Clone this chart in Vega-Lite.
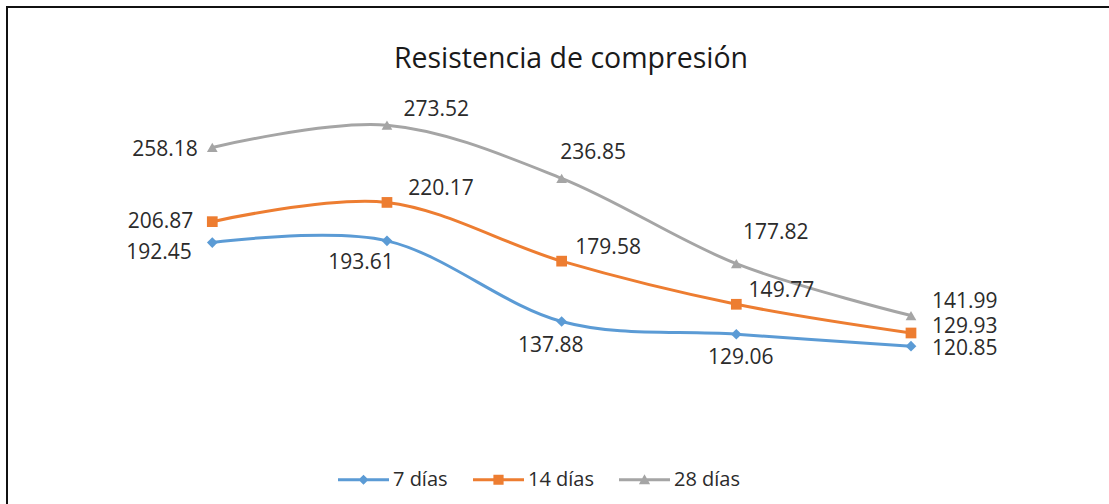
{
  "$schema": "https://vega.github.io/schema/vega-lite/v6.json",
  "width": 1102,
  "height": 497,
  "autosize": {"type": "none"},
  "padding": {"left": 7, "top": 7, "right": 0, "bottom": 0},
  "background": "white",
  "title": {
    "text": "Resistencia de compresión",
    "anchor": "middle",
    "frame": "group",
    "orient": "top",
    "offset": 0,
    "baseline": "alphabetic",
    "dx": 13,
    "dy": 89,
    "font": "Open Sans",
    "fontSize": 28.5,
    "fontWeight": "normal",
    "color": "#1a1a1a"
  },
  "config": {
    "view": {"stroke": "#111111", "strokeWidth": 2, "strokeDash": [1102, 1599, 497], "fill": "white"},
    "text": {"font": "Open Sans", "fontSize": 21, "color": "#2b2b2b", "baseline": "middle"}
  },
  "data": {
    "values": [
      {"muestra": 1, "serie": "7 días", "valor": 192.45},
      {"muestra": 2, "serie": "7 días", "valor": 193.61},
      {"muestra": 3, "serie": "7 días", "valor": 137.88},
      {"muestra": 4, "serie": "7 días", "valor": 129.06},
      {"muestra": 5, "serie": "7 días", "valor": 120.85},
      {"muestra": 1, "serie": "14 días", "valor": 206.87},
      {"muestra": 2, "serie": "14 días", "valor": 220.17},
      {"muestra": 3, "serie": "14 días", "valor": 179.58},
      {"muestra": 4, "serie": "14 días", "valor": 149.77},
      {"muestra": 5, "serie": "14 días", "valor": 129.93},
      {"muestra": 1, "serie": "28 días", "valor": 258.18},
      {"muestra": 2, "serie": "28 días", "valor": 273.52},
      {"muestra": 3, "serie": "28 días", "valor": 236.85},
      {"muestra": 4, "serie": "28 días", "valor": 177.82},
      {"muestra": 5, "serie": "28 días", "valor": 141.99}
    ]
  },
  "encoding": {
    "x": {"field": "muestra", "type": "quantitative", "axis": null, "scale": {"domain": [-0.1753, 6.1336], "nice": false, "zero": false}},
    "y": {"field": "valor", "type": "quantitative", "axis": null, "scale": {"domain": [11.75, 355.22], "nice": false, "zero": false}},
    "color": {
      "field": "serie",
      "type": "nominal",
      "scale": {"domain": ["7 días", "14 días", "28 días"], "range": ["#5B9BD5", "#ED7D31", "#A5A5A5"]},
      "legend": {
        "orient": "none",
        "legendX": 331,
        "legendY": 447,
        "direction": "horizontal",
        "title": null,
        "symbolSize": 2601,
        "symbolStrokeWidth": 0,
        "labelFont": "Open Sans",
        "labelFontSize": 20,
        "labelColor": "#2b2b2b",
        "labelOffset": 4,
        "columnPadding": 25,
        "encode": {
          "symbols": {
            "update": {
              "shape": {"signal": "datum.value === '7 días' ? 'M-1,-0.06H1V0.06H-1Z M0,-0.2L0.2,0L0,0.2L-0.2,0Z' : datum.value === '14 días' ? 'M-1,-0.06H1V0.06H-1Z M-0.2,-0.2H0.2V0.2H-0.2Z' : 'M-1,-0.06H1V0.06H-1Z M0,-0.22L0.22,0.18H-0.22Z'"},
              "fill": {"signal": "scale('color', datum.value)"},
              "stroke": {"value": "transparent"},
              "strokeWidth": {"value": 0},
              "opacity": {"value": 1}
            }
          }
        }
      }
    }
  },
  "layer": [
    {
      "mark": {"type": "line", "interpolate": "cardinal", "strokeWidth": 3}
    },
    {"transform": [{"filter": "datum.serie === '7 días'"}], "mark": {"type": "point", "shape": "diamond", "filled": true, "opacity": 1, "size": 115}},
    {"transform": [{"filter": "datum.serie === '14 días'"}], "mark": {"type": "point", "shape": "square", "filled": true, "opacity": 1, "size": 115}},
    {"transform": [{"filter": "datum.serie === '28 días'"}], "mark": {"type": "point", "shape": "triangle-up", "filled": true, "opacity": 1, "size": 115}},
    {"transform": [{"filter": "datum.serie === '28 días' && datum.muestra === 1"}], "mark": {"type": "text", "align": "right", "dx": -14.6, "dy": 2.6}, "encoding": {"text": {"field": "valor", "format": ".2f"}, "color": {"value": "#2b2b2b"}}},
    {"transform": [{"filter": "datum.serie === '28 días' && datum.muestra === 2"}], "mark": {"type": "text", "align": "left", "dx": 16.6, "dy": -15.4}, "encoding": {"text": {"field": "valor", "format": ".2f"}, "color": {"value": "#2b2b2b"}}},
    {"transform": [{"filter": "datum.serie === '28 días' && datum.muestra === 3"}], "mark": {"type": "text", "align": "left", "dx": -1.3, "dy": -25}, "encoding": {"text": {"field": "valor", "format": ".2f"}, "color": {"value": "#2b2b2b"}}},
    {"transform": [{"filter": "datum.serie === '28 días' && datum.muestra === 4"}], "mark": {"type": "text", "align": "left", "dx": 6.7, "dy": -30.4}, "encoding": {"text": {"field": "valor", "format": ".2f"}, "color": {"value": "#2b2b2b"}}},
    {"transform": [{"filter": "datum.serie === '28 días' && datum.muestra === 5"}], "mark": {"type": "text", "align": "left", "dx": 21, "dy": -13.5}, "encoding": {"text": {"field": "valor", "format": ".2f"}, "color": {"value": "#2b2b2b"}}},
    {"transform": [{"filter": "datum.serie === '14 días' && datum.muestra === 1"}], "mark": {"type": "text", "align": "right", "dx": -19, "dy": 0.5}, "encoding": {"text": {"field": "valor", "format": ".2f"}, "color": {"value": "#2b2b2b"}}},
    {"transform": [{"filter": "datum.serie === '14 días' && datum.muestra === 2"}], "mark": {"type": "text", "align": "left", "dx": 21.3, "dy": -13.2}, "encoding": {"text": {"field": "valor", "format": ".2f"}, "color": {"value": "#2b2b2b"}}},
    {"transform": [{"filter": "datum.serie === '14 días' && datum.muestra === 3"}], "mark": {"type": "text", "align": "left", "dx": 13.7, "dy": -13.4}, "encoding": {"text": {"field": "valor", "format": ".2f"}, "color": {"value": "#2b2b2b"}}},
    {"transform": [{"filter": "datum.serie === '14 días' && datum.muestra === 4"}], "mark": {"type": "text", "align": "left", "dx": 12.3, "dy": -13.5}, "encoding": {"text": {"field": "valor", "format": ".2f"}, "color": {"value": "#2b2b2b"}}},
    {"transform": [{"filter": "datum.serie === '14 días' && datum.muestra === 5"}], "mark": {"type": "text", "align": "left", "dx": 21, "dy": -6}, "encoding": {"text": {"field": "valor", "format": ".2f"}, "color": {"value": "#2b2b2b"}}},
    {"transform": [{"filter": "datum.serie === '7 días' && datum.muestra === 1"}], "mark": {"type": "text", "align": "right", "dx": -20.6, "dy": 10.5}, "encoding": {"text": {"field": "valor", "format": ".2f"}, "color": {"value": "#2b2b2b"}}},
    {"transform": [{"filter": "datum.serie === '7 días' && datum.muestra === 2"}], "mark": {"type": "text", "align": "center", "dx": -26, "dy": 22.2}, "encoding": {"text": {"field": "valor", "format": ".2f"}, "color": {"value": "#2b2b2b"}}},
    {"transform": [{"filter": "datum.serie === '7 días' && datum.muestra === 3"}], "mark": {"type": "text", "align": "center", "dx": -10.8, "dy": 24.5}, "encoding": {"text": {"field": "valor", "format": ".2f"}, "color": {"value": "#2b2b2b"}}},
    {"transform": [{"filter": "datum.serie === '7 días' && datum.muestra === 4"}], "mark": {"type": "text", "align": "center", "dx": 4.5, "dy": 23.3}, "encoding": {"text": {"field": "valor", "format": ".2f"}, "color": {"value": "#2b2b2b"}}},
    {"transform": [{"filter": "datum.serie === '7 días' && datum.muestra === 5"}], "mark": {"type": "text", "align": "left", "dx": 21, "dy": 2.4}, "encoding": {"text": {"field": "valor", "format": ".2f"}, "color": {"value": "#2b2b2b"}}}
  ]
}
